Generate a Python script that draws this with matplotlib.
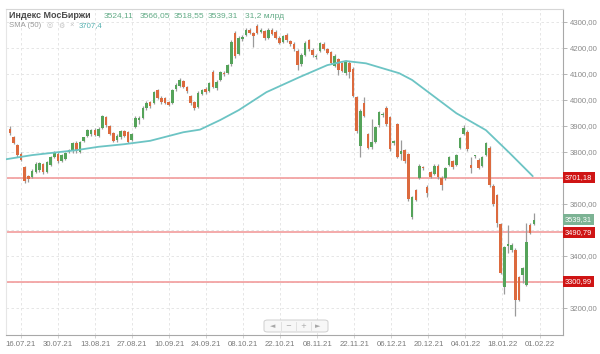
import matplotlib
matplotlib.use('Agg')
import matplotlib.pyplot as plt
import numpy as np
from matplotlib.patches import FancyBboxPatch
from matplotlib.lines import Line2D
import matplotlib.transforms as mtransforms

# ---------------- data ----------------
opens = [3887, 3856, 3828, 3791, 3743, 3706, 3703, 3724, 3729, 3754,
         3724, 3751, 3780, 3791, 3767, 3772, 3800, 3802, 3836, 3800,
         3843, 3863, 3869, 3883, 3861, 3894, 3934, 3899, 3873, 3845,
         3856, 3881, 3875, 3847, 3896, 3922, 3931, 3969, 3991, 3989,
         4040, 4009, 4006, 3991, 3989, 4041, 4055, 4073, 4049, 4014,
         3991, 3974, 4024, 4044, 4035, 4109, 4045, 4078, 4102, 4104,
         4137, 4258, 4178, 4233, 4251, 4269, 4257, 4285, 4263, 4267,
         4239, 4271, 4263, 4240, 4223, 4250, 4228, 4216, 4189, 4137,
         4174, 4230, 4193, 4167, 4188, 4216, 4197, 4183, 4129, 4156,
         4142, 4102, 4144, 4121, 4013, 3824, 3988, 3869, 3818, 3837,
         3902, 3943, 3971, 3933, 3833, 3909, 3792, 3808, 3794, 3550,
         3655, 3700, 3743, 3667, 3722, 3714, 3748, 3698, 3698, 3749,
         3765, 3751, 3817, 3871, 3877, 3749, 3784, 3771, 3747, 3788,
         3816, 3671, 3635, 3524, 3280, 3439, 3422, 3424, 3318, 3327,
         3290, 3520, 3524.11]
highs = [3899, 3861, 3832, 3801, 3748, 3713, 3733, 3761, 3761, 3759,
         3767, 3784, 3802, 3799, 3794, 3800, 3812, 3838, 3842, 3842,
         3859, 3887, 3889, 3891, 3895, 3944, 3940, 3903, 3877, 3869,
         3883, 3885, 3879, 3873, 3937, 3937, 3975, 3995, 3997, 4034,
         4044, 4014, 4012, 3998, 4044, 4065, 4083, 4077, 4055, 4019,
         3995, 4034, 4044, 4050, 4070, 4115, 4075, 4110, 4111, 4140,
         4229, 4266, 4246, 4250, 4277, 4275, 4263, 4291, 4275, 4271,
         4277, 4275, 4269, 4246, 4250, 4256, 4232, 4222, 4195, 4179,
         4226, 4236, 4199, 4177, 4224, 4222, 4201, 4187, 4177, 4160,
         4148, 4152, 4150, 4125, 4017, 3964, 4011, 3873, 3925, 3899,
         3956, 3955, 3975, 3937, 3847, 3913, 3848, 3812, 3798, 3630,
         3659, 3753, 3747, 3673, 3726, 3753, 3754, 3706, 3744, 3783,
         3769, 3791, 3859, 3904, 3883, 3781, 3790, 3775, 3783, 3838,
         3822, 3675, 3639, 3528, 3439, 3518, 3449, 3430, 3322, 3359,
         3528, 3526, 3566.05]
lows = [3866, 3829, 3782, 3764, 3680, 3684, 3698, 3721, 3724, 3717,
        3721, 3747, 3775, 3757, 3761, 3768, 3795, 3798, 3798, 3796,
        3839, 3859, 3861, 3861, 3856, 3890, 3897, 3866, 3837, 3839,
        3851, 3857, 3833, 3841, 3892, 3907, 3925, 3963, 3968, 3984,
        4004, 3984, 3984, 3975, 3984, 4035, 4050, 4045, 4027, 3979,
        3963, 3969, 4018, 4024, 4030, 4045, 4040, 4074, 4094, 4100,
        4132, 4163, 4173, 4228, 4247, 4254, 4203, 4255, 4257, 4231,
        4235, 4249, 4233, 4214, 4218, 4224, 4208, 4190, 4117, 4132,
        4168, 4190, 4167, 4157, 4183, 4193, 4177, 4137, 4125, 4096,
        4106, 4096, 4086, 4013, 3873, 3780, 3933, 3811, 3812, 3833,
        3898, 3935, 3901, 3805, 3826, 3775, 3770, 3758, 3613, 3542,
        3611, 3696, 3731, 3627, 3698, 3710, 3696, 3654, 3694, 3745,
        3735, 3747, 3811, 3866, 3805, 3719, 3778, 3735, 3743, 3784,
        3667, 3592, 3510, 3329, 3253, 3410, 3416, 3168, 3225, 3296,
        3284, 3484, 3518.55]
closes = [3872, 3835, 3788, 3771, 3688, 3696, 3728, 3754, 3757, 3723,
          3761, 3779, 3798, 3764, 3789, 3796, 3808, 3834, 3802, 3838,
          3856, 3883, 3885, 3867, 3889, 3940, 3902, 3871, 3843, 3863,
          3879, 3861, 3839, 3869, 3932, 3930, 3971, 3989, 3975, 4029,
          4008, 3994, 3989, 3981, 4039, 4059, 4077, 4051, 4033, 3989,
          3969, 4028, 4038, 4030, 4065, 4051, 4071, 4106, 4100, 4136,
          4224, 4170, 4238, 4244, 4271, 4259, 4245, 4259, 4271, 4237,
          4271, 4255, 4237, 4218, 4246, 4230, 4214, 4196, 4135, 4173,
          4220, 4196, 4173, 4169, 4220, 4198, 4182, 4143, 4171, 4116,
          4112, 4146, 4106, 4017, 3879, 3958, 3937, 3817, 3838, 3895,
          3952, 3947, 3907, 3811, 3841, 3781, 3804, 3764, 3618, 3626,
          3617, 3748, 3737, 3642, 3702, 3748, 3702, 3674, 3740, 3779,
          3741, 3787, 3855, 3891, 3811, 3737, 3787, 3739, 3779, 3834,
          3673, 3598, 3526, 3335, 3435, 3447, 3443, 3231, 3231, 3355,
          3453, 3490, 3539.31]

date_labels = ['16.07.21', '30.07.21', '13.08.21', '27.08.21', '10.09.21',
               '24.09.21', '08.10.21', '22.10.21', '08.11.21', '22.11.21',
               '06.12.21', '20.12.21', '04.01.22', '18.01.22', '01.02.22']

# SMA(50) line (bar position, value)
sma_pos = [-1.1, 6, 11, 18, 24, 31, 38, 47, 51.5, 57, 62, 69.5, 78.5,
           86, 91, 96.5, 105.5, 109, 121, 129, 135.5, 141.7]
sma_vals = [3772, 3788, 3796, 3807, 3820, 3830, 3843, 3876, 3886, 3923,
            3961, 4030, 4088, 4134, 4150, 4141, 4103, 4077, 3949, 3884,
            3795, 3707]

level_values = [3701.18, 3490.79, 3300.99]
last_close = 3539.31
y_ticks = [3200, 3300, 3400, 3500, 3600, 3700, 3800, 3900, 4000, 4100, 4200, 4300]
hidden_tick_labels = [3300, 3500, 3700]

title_name = 'Индекс МосБиржи'
title_values = ['3524,11', '3566,05', '3518,55', '3539,31', '31,2 млрд']
sma_label = 'SMA (50)'
sma_value_text = '3707,4'


def fmt(v):
    return f'{v:.2f}'.replace('.', ',')


# ---------------- figure ----------------
plt.rcParams['font.family'] = ['Liberation Sans', 'DejaVu Sans']
W, H = 600, 354
fig = plt.figure(figsize=(6, 3.54), dpi=100)
fig.patch.set_facecolor('white')

L, R, T, B = 6, 563, 9, 335
ax = fig.add_axes([L / W, 1 - B / H, (R - L) / W, (B - T) / H])
ax.set_facecolor('white')

n = len(closes)
x = np.arange(n)
o = np.array(opens, float)
h = np.array(highs, float)
l = np.array(lows, float)
c = np.array(closes, float)

up_col = '#55a35a'
dn_col = '#dc6a3e'
wick_col = '#9a9a9a'

ax.vlines(x, l, h, color=wick_col, lw=0.9, zorder=3)
bottoms = np.minimum(o, c)
heights = np.maximum(np.abs(c - o), 3)
colors = [up_col if cc >= oo else dn_col for oo, cc in zip(o, c)]
ax.bar(x, heights, bottom=bottoms, width=0.7, color=colors, zorder=4, linewidth=0)

# SMA
ax.plot(sma_pos, sma_vals, color='#6cc4c4', lw=1.3, zorder=5, solid_capstyle='round')

# levels
for lv in level_values:
    ax.axhline(lv, color='#f29c9c', lw=1.2, zorder=2)

# axes limits
ax.set_xlim(-1.08, 149.9)
ax.set_ylim(3096, 4350)

# x ticks (every two weeks)
tick_start, tick_step = 2.98, 10.04
xt = [tick_start + tick_step * k for k in range(len(date_labels))]
ax.set_xticks(xt)
ax.set_xticklabels(date_labels, fontsize=5.6, color='#7a7a7a')

# y ticks on right
ax.yaxis.tick_right()
ax.set_yticks(y_ticks)
ax.set_yticklabels(['' if t in hidden_tick_labels else fmt(t) for t in y_ticks],
                   fontsize=5.6, color='#8a8a8a')
ax.tick_params(axis='y', length=3, width=0.6, color='#aaaaaa', pad=2)
ax.tick_params(axis='x', length=2, width=0.6, color='#cccccc', pad=2)

ax.grid(True, ls=(0, (3, 3)), color='#e2e2e2', lw=0.6, zorder=0)
ax.set_axisbelow(True)

for side, col in [('top', '#d6d6d6'), ('left', '#e6e6e6'), ('right', '#a8a8a8'), ('bottom', '#a8a8a8')]:
    ax.spines[side].set_color(col)
    ax.spines[side].set_linewidth(0.8)

# price tags
trans = mtransforms.blended_transform_factory(ax.transAxes, ax.transData)
for lv in level_values:
    ax.text(1.004, lv, fmt(lv), transform=trans, ha='left', va='center',
            fontsize=5.4, color='white', zorder=10, clip_on=False,
            bbox=dict(boxstyle='square,pad=0.28', fc='#cf1414', ec='none'))
ax.text(1.004, last_close, fmt(last_close), transform=trans, ha='left', va='center',
        fontsize=5.4, color='white', zorder=10, clip_on=False,
        bbox=dict(boxstyle='square,pad=0.28', fc='#7cb394', ec='none'))

# title lines
def px(xp, yp):
    return xp / W, 1 - yp / H

fig.text(*px(9, 16), title_name, fontsize=6.5, fontweight='bold', color='#4a4a4a',
         ha='left', va='center')
val_x = [104, 140, 174, 208, 245]
for vx, vt in zip(val_x, title_values):
    fig.text(*px(vx, 16), vt, fontsize=6.0, color='#62ab86', ha='left', va='center')
fig.text(*px(9, 25.5), sma_label, fontsize=5.6, color='#9a9a9a', ha='left', va='center')
fig.text(*px(47, 25.5), '◎', fontsize=5, color='#c0c0c0', ha='left', va='center',
         family=['DejaVu Sans'])
fig.text(*px(58, 25.5), '⚙', fontsize=5, color='#c0c0c0', ha='left', va='center',
         family=['DejaVu Sans'])
fig.text(*px(69, 25.5), '×', fontsize=5.5, color='#c0c0c0', ha='left', va='center')
fig.text(*px(79, 25.5), sma_value_text, fontsize=5.6, color='#56b0b0', ha='left', va='center')

# navigation control
bx0, by0, bx1, by1 = 264, 320, 328, 332
nav = FancyBboxPatch(px(bx0, by1), (bx1 - bx0) / W, (by1 - by0) / H,
                     boxstyle='round,pad=0,rounding_size=0.006',
                     transform=fig.transFigure, fc='#f7f7f7', ec='#cfcfcf', lw=0.7, zorder=20)
fig.patches.append(nav)
for gx, g in zip([273, 288, 303, 318], ['◄', '−', '+', '►']):
    fig.text(*px(gx, 326), g, fontsize=5, color='#a8a8a8', ha='center', va='center',
             family=['DejaVu Sans'], zorder=21)
for sx in [280.5, 295.5, 310.5]:
    fig.lines.append(Line2D([sx / W, sx / W], [1 - 322 / H, 1 - 330 / H],
                            transform=fig.transFigure, color='#dddddd', lw=0.6, zorder=21))

fig.savefig('out.png', dpi=100, facecolor='white')
